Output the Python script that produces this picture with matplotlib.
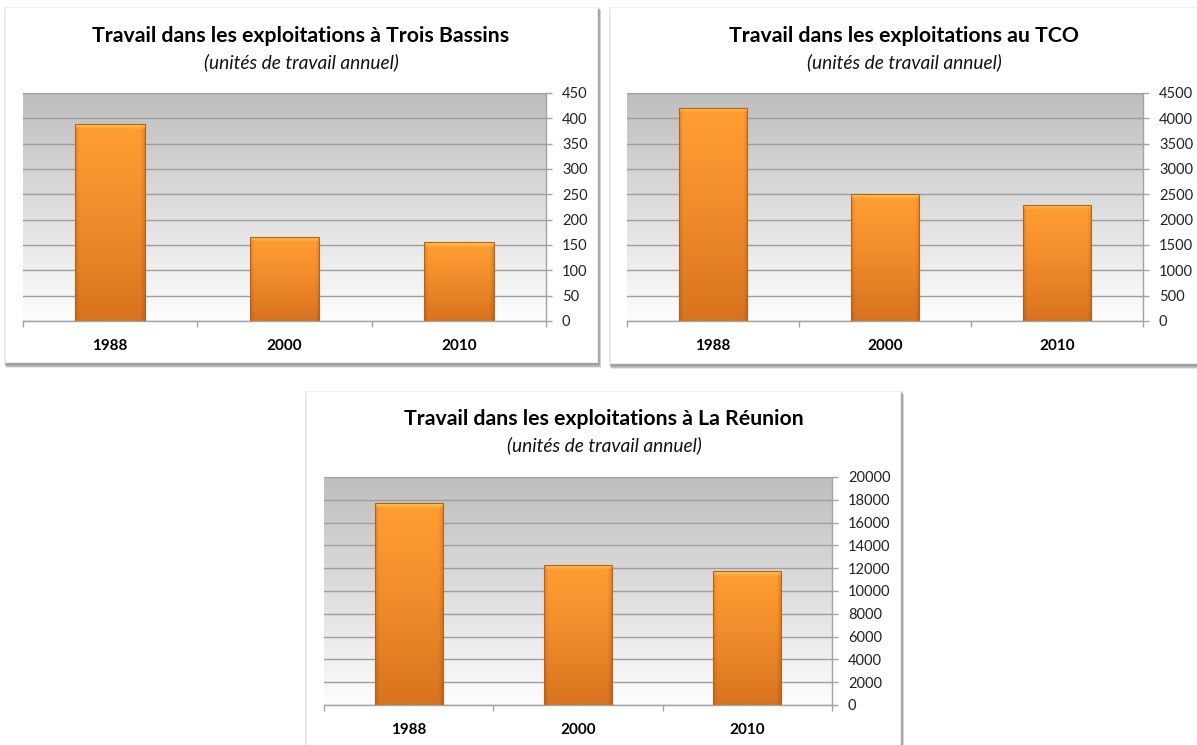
import numpy as np
import matplotlib
matplotlib.use("Agg")
import matplotlib.pyplot as plt
from matplotlib.patches import Rectangle
from matplotlib.colors import to_rgb

plt.rcParams['font.family'] = ['Lato', 'DejaVu Sans']

years = ['1988', '2000', '2010']
trois_bassins = [388, 166, 155]
tco = [4210, 2500, 2290]
reunion = [17700, 12300, 11750]

titles = ['Travail dans les exploitations à Trois Bassins',
          'Travail dans les exploitations au TCO',
          'Travail dans les exploitations à La Réunion']
subtitle = '(unités de travail annuel)'
y_max = [450, 4500, 20000]
y_step = [50, 500, 2000]

W, H = 1197, 745
fig = plt.figure(figsize=(W / 100, H / 100), dpi=100)

# background layer in pixel coords (origin top-left)
bg = fig.add_axes([0, 0, 1, 1])
bg.set_xlim(0, W)
bg.set_ylim(H, 0)
bg.axis('off')

# panel boxes, plot areas and title positions, in pixels
layout = [
    dict(box=(5, 7, 597, 362), plot=(23, 93, 546, 321), cx=301, ty=36, sy=62),
    dict(box=(610, 7, 1210, 363), plot=(627, 93, 1143, 321), cx=904, ty=36, sy=62),
    dict(box=(306, 391, 900, 760), plot=(324, 477, 832, 705), cx=604, ty=419, sy=445),
]


def grad(c1, c2, t):
    c1, c2 = np.array(to_rgb(c1)), np.array(to_rgb(c2))
    return c1[None, :] * (1 - t[:, None]) + c2[None, :] * t[:, None]


def bar_image(h_px, w_px):
    n = max(int(h_px), 2)
    m = max(int(w_px), 2)
    t = np.linspace(0, 1, n)
    col = grad('#FF9C32', '#D8721F', t ** 1.3)
    img = np.repeat(col[:, None, :], m, axis=1)
    # darker sides
    u = np.linspace(0, 1, m)
    side = 1 - 0.12 * np.clip(1 - np.minimum(u, 1 - u) * m / 4, 0, 1)
    img = img * side[None, :, None]
    # light top bevel
    rim = min(5, n)
    hl = np.array(to_rgb('#FFCB55'))
    for r in range(rim):
        a = 0.9 * (1 - r / rim)
        img[r] = img[r] * (1 - a) + hl * a
    return np.clip(img, 0, 1)


bg_img = grad('#BEBEBE', '#FDFDFD', np.linspace(0, 1, 256))[:, None, :]

all_values = [trois_bassins, tco, reunion]
for k in range(3):
    L = layout[k]
    x0, y0, x1, y1 = L['box']
    # soft shadow
    for i in range(5):
        bg.add_patch(Rectangle((x0 - 1 + i * 0.6, y0 + i * 0.8), x1 - x0 + 3, y1 - y0 + 3,
                               facecolor='#000000', alpha=0.09, lw=0, zorder=1))
    bg.add_patch(Rectangle((x0, y0), x1 - x0, y1 - y0, facecolor='white',
                           edgecolor='#EDEDED', lw=0.8, zorder=2))
    bg.text(L['cx'], L['ty'], titles[k], ha='center', va='center',
            fontsize=15.3, fontweight='bold', color='#000000', zorder=3)
    bg.text(L['cx'], L['sy'], subtitle, ha='center', va='center',
            fontsize=13.8, style='italic', color='#111111', zorder=3)

    px0, py0, px1, py1 = L['plot']
    ax = fig.add_axes([px0 / W, 1 - py1 / H, (px1 - px0) / W, (py1 - py0) / H])
    ax.patch.set_alpha(0)
    vals = all_values[k]
    x = np.arange(len(years))
    ax.set_xlim(-0.5, len(years) - 0.5)
    ax.set_ylim(0, y_max[k])
    ax.imshow(bg_img, extent=(-0.5, len(years) - 0.5, 0, y_max[k]),
              aspect='auto', zorder=0, interpolation='bilinear')

    bars = ax.bar(x, vals, width=0.4, facecolor='none', edgecolor='#B5621E',
                  lw=0.8, zorder=3)
    for b in bars:
        p0 = ax.transData.transform((b.get_x(), 0))
        p1 = ax.transData.transform((b.get_x() + b.get_width(), b.get_height()))
        im = ax.imshow(bar_image(p1[1] - p0[1], p1[0] - p0[0]),
                       extent=(b.get_x(), b.get_x() + b.get_width(), 0, b.get_height()),
                       aspect='auto', zorder=2, interpolation='bilinear')
        im.set_clip_path(b)

    ax.set_xlim(-0.5, len(years) - 0.5)
    ax.set_ylim(0, y_max[k])

    ax.set_yticks(np.arange(0, y_max[k] + 1, y_step[k]))
    ax.yaxis.tick_right()
    ax.yaxis.grid(True, color='#9E9E9E', lw=1)
    ax.set_axisbelow(True)
    ax.tick_params(axis='y', length=4.5, width=1, color='#A3A3A3', pad=7,
                   labelsize=10.5, labelcolor='#222222')

    ax.set_xticks(np.arange(-0.5, len(years), 1.0))
    ax.set_xticklabels([])
    ax.set_xticks(x, minor=True)
    ax.set_xticklabels(years, minor=True, fontweight='bold', fontsize=11)
    ax.tick_params(axis='x', which='major', length=4, width=1, color='#A3A3A3')
    ax.tick_params(axis='x', which='minor', length=0, pad=13)

    for s in ['left', 'top']:
        ax.spines[s].set_visible(False)
    for s in ['right', 'bottom']:
        ax.spines[s].set_color('#A3A3A3')
        ax.spines[s].set_linewidth(1)

fig.savefig('out.png', dpi=100)
